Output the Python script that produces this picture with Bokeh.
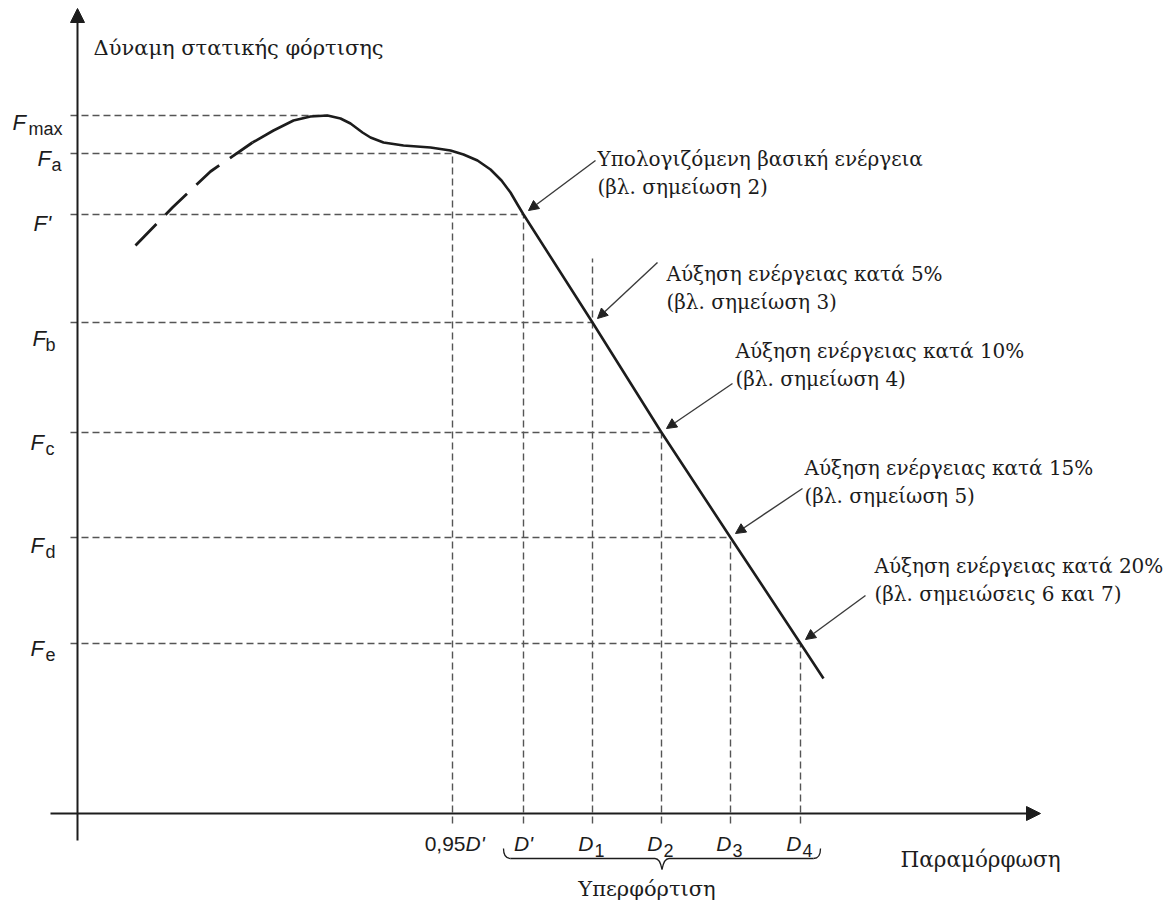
from bokeh.plotting import figure
from bokeh.models import Range1d, Arrow, NormalHead
from bokeh.core.properties import value
from bokeh.embed import file_html
from bokeh.resources import INLINE

# ---------------- data (schematic units) ----------------
# force levels on the vertical axis
F_main = ["F", "F", "F'", "F", "F", "F", "F"]
F_sub = ["max", "a", "", "b", "c", "d", "e"]
F_levels = [698, 660, 599, 491, 381, 276, 170]

# deformation levels on the horizontal axis
D_prefix = ["0,95", "", "", "", "", ""]
D_main = ["D'", "D'", "D", "D", "D", "D"]
D_sub = ["", "", "1", "2", "3", "4"]
D_levels = [375, 446, 515, 584, 653, 723]

# top end of each vertical guide line
D_guide_top = [660, 599, 555, 381, 276, 170]

# load-deformation curve (dashed initial part, then solid part)
curve_dash_x = [58, 95, 133, 175]
curve_dash_y = [568, 606, 642, 671]
curve_x = [175, 196, 216, 233, 250, 263, 273, 285, 293, 306, 326, 353, 373,
           386, 400, 413, 424, 433, 440, 446, 515, 584, 653, 723, 746]
curve_y = [671, 683, 693, 697, 698, 695, 690, 681, 676, 671, 668, 666, 663,
           659, 653, 644, 633, 621, 609, 599, 491, 381, 276, 170, 135]

# annotations
ann_line1 = ["Υπολογιζόμενη βασική ενέργεια",
             "Αύξηση ενέργειας κατά 5%",
             "Αύξηση ενέργειας κατά 10%",
             "Αύξηση ενέργειας κατά 15%",
             "Αύξηση ενέργειας κατά 20%"]
ann_line2 = ["(βλ. σημείωση 2)",
             "(βλ. σημείωση 3)",
             "(βλ. σημείωση 4)",
             "(βλ. σημείωση 5)",
             "(βλ. σημειώσεις 6 και 7)"]
ann_target_D = [1, 2, 3, 4, 5]      # index into D_levels
ann_target_F = [2, 3, 4, 5, 6]      # index into F_levels

y_title = "Δύναμη στατικής φόρτισης"
x_title = "Παραμόρφωση"
brace_title = "Υπερφόρτιση"

# ---------------- layout / style ----------------
INK = "#1c1c1c"
GUIDE = "#555555"
SERIF = value("DejaVu Serif")
SANS = value("Liberation Sans")

ann_text_y = [655, 540, 463, 346, 248]           # baseline of first line
ann_start_dx = [-2, -9, -3, -2, -9]              # arrow tail relative to text
ann_start_dy = [-2, 11, -33, -21, -30]
F_left = [-65, -40, -44, -45, -47, -47, -47]
F_sub_left = [-49, -26, 0, -32, -32, -32, -32]
F_base_off = [7, 5, 9, 16, 10, 8, 5]

W, H = 1170, 905
p = figure(width=W, height=H,
           x_range=Range1d(-77, W - 77), y_range=Range1d(813 - H, 813),
           x_axis_type=None, y_axis_type=None,
           output_backend="svg", toolbar_location=None, min_border=0)
p.grid.visible = False
p.outline_line_color = None
p.background_fill_color = "white"

# axes with arrows
p.add_layout(Arrow(x_start=0, y_start=-27, x_end=0, y_end=805,
                   line_color=INK, line_width=2,
                   end=NormalHead(size=14, fill_color=INK, line_color=INK)))
p.add_layout(Arrow(x_start=-27, y_start=0, x_end=963, y_end=0,
                   line_color=INK, line_width=2,
                   end=NormalHead(size=14, fill_color=INK, line_color=INK)))

# horizontal guide lines
peak_x = curve_x[curve_y.index(max(curve_y))]
h_end = [peak_x] + D_levels
p.segment(x0=[-7] * len(F_levels), y0=F_levels, x1=h_end, y1=F_levels,
          line_color=GUIDE, line_width=1.4, line_dash="7 4")
# vertical guide lines
p.segment(x0=D_levels, y0=[-10] * len(D_levels), x1=D_levels, y1=D_guide_top,
          line_color=GUIDE, line_width=1.4, line_dash="7 4")

# curve
p.line(curve_dash_x, curve_dash_y, line_color=INK, line_width=2.8,
       line_dash="30 13")
p.line(curve_x, curve_y, line_color=INK, line_width=2.6, line_join="round")

# F labels
for i in range(len(F_levels)):
    base = F_levels[i] - F_base_off[i]
    p.text(x=[F_left[i]], y=[base], text=[F_main[i]], text_font=SANS,
           text_font_style="italic", text_font_size="22px", text_color=INK,
           text_align="left", text_baseline="alphabetic")
    if F_sub[i]:
        p.text(x=[F_sub_left[i]], y=[base - 6], text=[F_sub[i]], text_font=SANS,
               text_font_size="18px", text_color=INK,
               text_align="left", text_baseline="alphabetic")

# D labels
for i in range(len(D_levels)):
    xd = D_levels[i]
    if D_prefix[i]:
        p.text(x=[xd + 13], y=[-30], text=[D_prefix[i]], text_font=SANS,
               text_font_size="21px", text_color=INK,
               text_align="right", text_baseline="alphabetic")
        p.text(x=[xd + 13], y=[-30], text=[D_main[i]], text_font=SANS,
               text_font_style="italic", text_font_size="21px", text_color=INK,
               text_align="left", text_baseline="alphabetic")
    elif D_sub[i]:
        p.text(x=[xd + 1], y=[-30], text=[D_main[i]], text_font=SANS,
               text_font_style="italic", text_font_size="21px", text_color=INK,
               text_align="right", text_baseline="alphabetic")
        p.text(x=[xd + 2], y=[-37], text=[D_sub[i]], text_font=SANS,
               text_font_size="18px", text_color=INK,
               text_align="left", text_baseline="alphabetic")
    else:
        p.text(x=[xd], y=[-30], text=[D_main[i]], text_font=SANS,
               text_font_style="italic", text_font_size="21px", text_color=INK,
               text_align="center", text_baseline="alphabetic")

# brace under the overload range
bl = D_levels[1] - 20
br = D_levels[-1] + 20
bm = (bl + br) / 2
yb, ye, yt = -45, -35, -56
p.quadratic(x0=[bl, bm - 7, bm, br - 7], y0=[ye, yb, yt, yb],
            x1=[bl + 7, bm, bm + 7, br], y1=[yb, yt, yb, ye],
            cx=[bl, bm - 2, bm + 2, br], cy=[yb, yb, yb, yb],
            line_color=INK, line_width=1.3)
p.segment(x0=[bl + 7, bm + 7], y0=[yb, yb], x1=[bm - 7, br - 7], y1=[yb, yb],
          line_color=INK, line_width=1.3)
p.text(x=[bm - 15], y=[-75], text=[brace_title], text_font=SERIF,
       text_font_size="21px", text_color=INK, text_align="center",
       text_baseline="alphabetic")

# axis titles
p.text(x=[16], y=[766], text=[y_title], text_font=SERIF, text_font_size="21px",
       text_color=INK, text_align="left", text_baseline="alphabetic")
p.text(x=[823], y=[-46], text=[x_title], text_font=SERIF, text_font_size="21.5px",
       text_color=INK, text_align="left", text_baseline="alphabetic")

# annotations with arrows
for i in range(len(ann_line1)):
    tx = D_levels[ann_target_D[i]]
    ty = F_levels[ann_target_F[i]]
    lx = tx + 74
    ly = ann_text_y[i]
    p.text(x=[lx, lx], y=[ly, ly - 28], text=[ann_line1[i], ann_line2[i]],
           text_font=SERIF, text_font_size="20px", text_color=INK,
           text_align="left", text_baseline="alphabetic")
    p.add_layout(Arrow(x_start=lx + ann_start_dx[i], y_start=ly + ann_start_dy[i],
                       x_end=tx + 5, y_end=ty + 4,
                       line_color="#3a3a3a", line_width=1.4,
                       end=NormalHead(size=10, fill_color="#222222",
                                      line_color="#222222")))

open("out.html", "w").write(file_html(p, INLINE))
